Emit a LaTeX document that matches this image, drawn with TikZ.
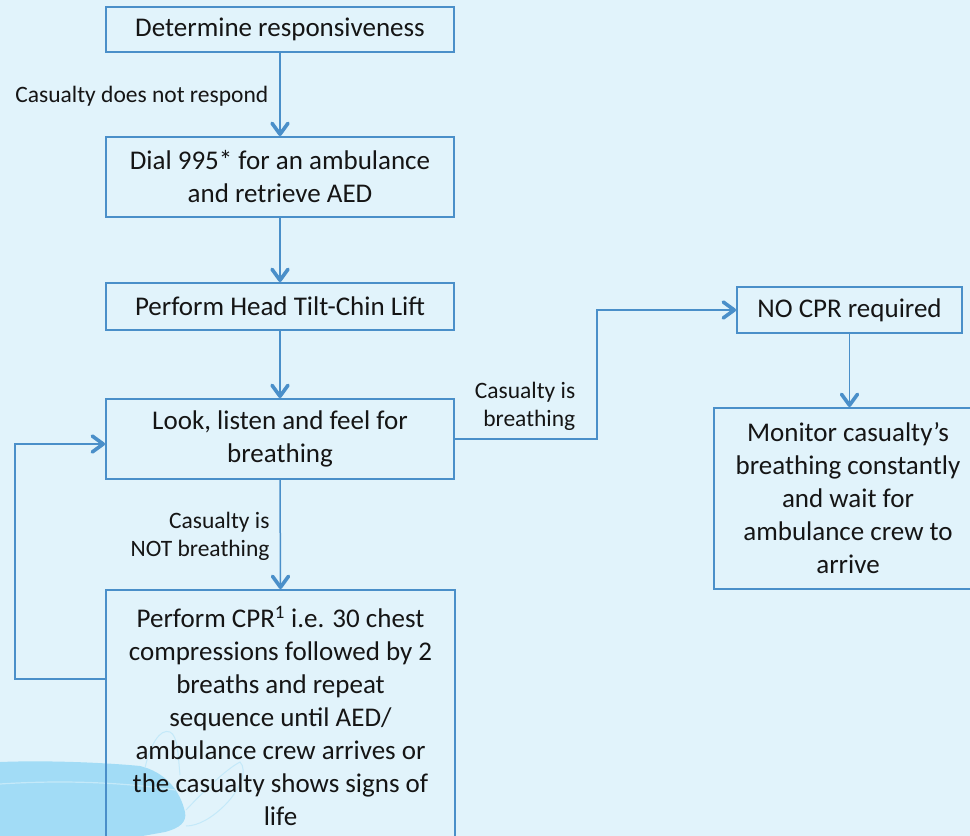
\documentclass[tikz,border=0pt]{standalone}
\usepackage{fontspec}
\setmainfont{Carlito}
\definecolor{bg}{HTML}{E1F3FB}
\definecolor{ln}{HTML}{4A8FC9}
\definecolor{blob}{HTML}{A2DCF6}
\definecolor{blobline}{HTML}{C4E9F9}
\definecolor{txt}{HTML}{151515}
\begin{document}
\begin{tikzpicture}[x=1pt,y=-1pt,
  box/.style={draw=ln, line width=1.5pt, align=center, inner sep=0pt,
    font=\fontsize{27}{33}\selectfont, text=txt},
  lbl/.style={align=right, inner sep=0pt, font=\fontsize{23.5}{28}\selectfont, text=txt},
  conn/.style={draw=ln, line width=1.5pt},
  vhead/.style={draw=ln, line width=3.6pt, line cap=round, line join=round}]
\useasboundingbox (0,0) rectangle (970,836);
\clip (0,0) rectangle (970,836);
\fill[bg] (0,0) rectangle (970,836);
% watercolour blob
\fill[blob] (0,762) .. controls (50,760) and (110,763) .. (140,766)
  .. controls (165,772) and (180,790) .. (185,812)
  .. controls (187,822) and (180,828) .. (165,832)
  -- (120,840) -- (0,840) -- cycle;
\draw[blobline, line width=1.2pt] (0,784) .. controls (60,780) and (120,782) .. (175,790);
\draw[blobline, line width=1pt] (145,768) .. controls (150,745) and (160,728) .. (170,732)
  .. controls (178,736) and (178,755) .. (180,775);
\draw[blobline, line width=1pt] (186,810) .. controls (205,790) and (225,770) .. (240,762)
  .. controls (248,770) and (240,790) .. (225,805) .. controls (212,818) and (198,826) .. (186,826);

\node[box, minimum width=348pt, minimum height=45pt] (b1) at (280,29.5) {Determine responsiveness};
\node[box, minimum width=348pt, minimum height=80pt] (b2) at (280,177) {Dial 995* for an ambulance\\and retrieve AED};
\node[box, minimum width=348pt, minimum height=47pt] (b3) at (280,306.5) {Perform Head Tilt-Chin Lift};
\node[box, minimum width=348pt, minimum height=80pt] (b4) at (280,439) {Look, listen and feel for\\breathing};
\node[box, minimum width=349pt, minimum height=252pt] (cpr) at (280.5,716)
  {Perform CPR\textsuperscript{1} i.e. 30 chest\\compressions followed by 2\\breaths and repeat\\sequence until AED/\\ambulance crew arrives or\\the casualty shows signs of\\life};
\node[box, minimum width=225pt, minimum height=46pt] (nocpr) at (849.5,310) {NO CPR required};
\node[box, minimum width=268pt, minimum height=181pt] (mon) at (848,498.5)
  {Monitor casualty’s\\breathing constantly\\and wait for\\ambulance crew to\\arrive};

\coordinate (b2in) at ([yshift=2pt]b2.north);
\coordinate (b3in) at ([yshift=2pt]b3.north);
\coordinate (b4in) at ([yshift=2pt]b4.north);
\coordinate (cprin) at ([yshift=2pt]cpr.north);
\coordinate (monin) at ([yshift=2pt]nocpr.south |- mon.north);
\coordinate (noin) at ([xshift=-2pt]nocpr.west);
\coordinate (loopin) at ([xshift=-2pt,yshift=-5pt]b4.west);
\coordinate (loopout) at ([yshift=37pt]cpr.west);

\draw[conn] (b1.south) -- node[lbl, anchor=east, pos=0.53, xshift=-11pt] {Casualty does not respond} (b2in);
\draw[conn] (b2.south) -- (b3in);
\draw[conn] (b3.south) -- (b4in);
\draw[conn] (b4.south) -- node[lbl, anchor=east, pos=0.53, xshift=-10pt] {Casualty is\\NOT breathing} (cprin);
\draw[conn] (b4.east) -- ++(142,0) |- (noin)
  node[lbl, anchor=east] at (576,406) {Casualty is\\breathing};
\draw[conn] (nocpr.south) -- (monin);
\draw[conn] (loopout) -- (15,679) -- (15,444) -- (loopin);

% open arrow heads
\foreach \p in {b2in,b3in,b4in,cprin,monin}
  \draw[vhead] ([shift={(-8,-11)}]\p) -- (\p) -- ([shift={(8,-11)}]\p);
\foreach \p in {noin,loopin}
  \draw[vhead] ([shift={(-11,-8)}]\p) -- (\p) -- ([shift={(-11,8)}]\p);
\end{tikzpicture}
\end{document}
